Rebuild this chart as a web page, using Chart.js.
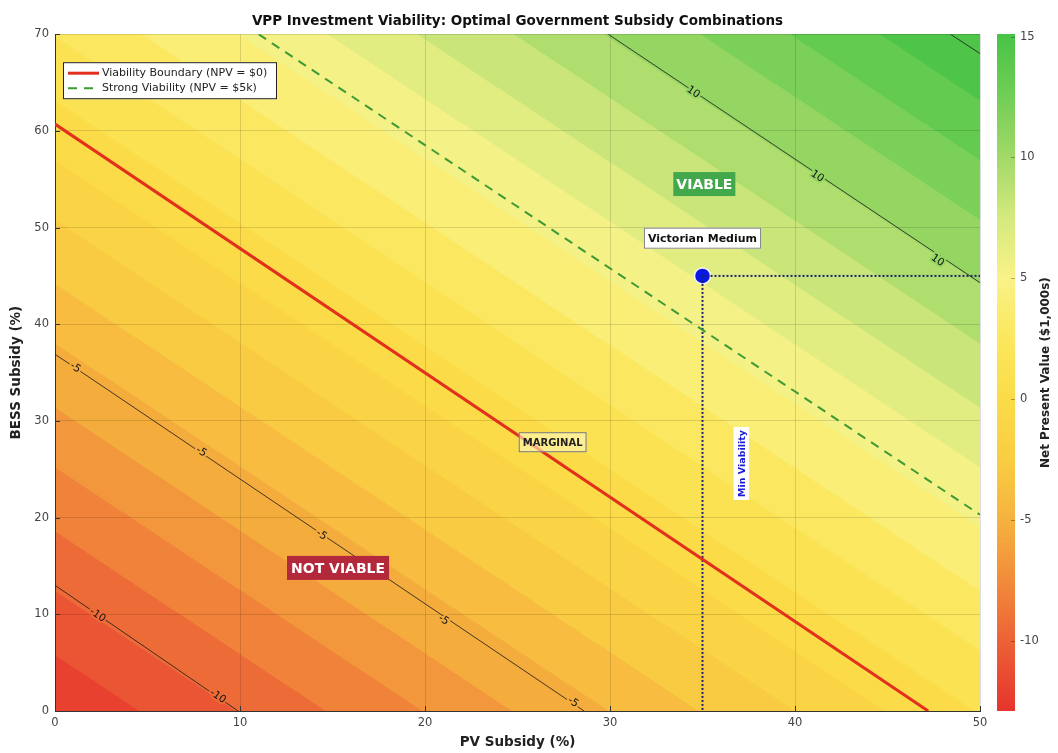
<!DOCTYPE html>
<html>
<head>
<meta charset="utf-8">
<title>VPP Investment Viability</title>
<script src="https://cdn.jsdelivr.net/npm/chart.js@4.4.1/dist/chart.umd.min.js"></script>
<style>
  html, body { margin: 0; padding: 0; background: #fff; }
  #wrap { width: 1058px; height: 753px; }
</style>
</head>
<body>
<div id="wrap"><canvas id="chart" width="1058" height="753"></canvas></div>
<script>
// ---- data ----
const pvTicks = [0, 10, 20, 30, 40, 50];
const bessTicks = [0, 10, 20, 30, 40, 50, 60, 70];
const npvTicks = [-10, -5, 0, 5, 10, 15];
const npvRange = [-12.9, 15.1];

// NPV ($1,000s) on a 10% x 10% grid, rows = BESS subsidy, columns = PV subsidy
const pvGrid = [0, 10, 20, 30, 40, 50];
const bessGrid = [0, 10, 20, 30, 40, 50, 60, 70];
const npvGrid = [
  [-12.72, -10.04, -7.36, -4.68, -2.00, 0.68],
  [-10.61, -7.93, -5.25, -2.57, 0.11, 2.79],
  [-8.50, -5.82, -3.14, -0.46, 2.22, 4.90],
  [-6.39, -3.71, -1.03, 1.65, 4.33, 7.01],
  [-4.28, -1.60, 1.08, 3.76, 6.44, 9.12],
  [-2.17, 0.51, 3.19, 5.87, 8.55, 11.23],
  [-0.06, 2.62, 5.30, 7.98, 10.66, 13.34],
  [2.05, 4.73, 7.41, 10.09, 12.77, 15.45],
];

// filled-contour band edges
const bandEdges = [-11.5, -10.1, -8.8, -7.4, -6.1, -4.7, -3.4, -2.0, -0.7, 0.6,
  2.0, 3.3, 4.7, 6.0, 7.3, 8.7, 10.0, 11.4, 12.7, 14.0];

// labelled black contour lines (end points where they meet the plot edges)
const contourLevels = [-10, -5, 10, 15];
const contourStartPv = [0, 0, 29.9, 48.4];
const contourStartBess = [13.0, 36.9, 70, 70];
const contourEndPv = [9.9, 28.6, 50, 50];
const contourEndBess = [0, 0, 44.3, 68.0];

// inline contour label spots
const labelLevel = [-10, -10, -5, -5, -5, -5, -5, 10, 10, 10];
const labelPv = [2.3, 8.8, 1.1, 7.9, 14.4, 21.0, 28.0, 34.5, 41.2, 47.7];
const labelBess = [9.9, 1.5, 35.5, 26.8, 18.2, 9.4, 0.9, 64.0, 55.3, 46.6];

// NPV = $0 and NPV = $5k boundaries
const boundaryPv = [0, 47.2];
const boundaryBess = [60.7, 0];
const strongPv = [11.0, 50];
const strongBess = [70, 20.3];

// Victorian medium scenario
const victorianPv = [35];
const victorianBess = [45];

// ---- style ----
const FONT = "'DejaVu Sans', 'Liberation Sans', Arial, sans-serif";
const CMAP = [
  [-12.9, 230, 52, 46],
  [-10, 236, 98, 54],
  [-7.5, 241, 140, 58],
  [-5, 245, 178, 62],
  [-2.5, 249, 205, 66],
  [0, 251, 220, 72],
  [2.5, 251, 231, 94],
  [5, 249, 242, 135],
  [7.5, 212, 233, 126],
  [10, 162, 217, 104],
  [12.5, 114, 206, 86],
  [15.1, 72, 196, 70],
];

const annotations = [
  { text: 'VIABLE', pv: 35.1, bess: 54.5, size: 14, bg: '#43a84b', color: '#fff', pad: [3, 4] },
  { text: 'Victorian Medium', pv: 35.0, bess: 48.9, size: 11, bg: '#ffffff', color: '#111', border: '#888', pad: [4, 4] },
  { text: 'MARGINAL', pv: 26.9, bess: 27.8, size: 10, bg: 'rgba(255,248,190,0.6)', color: '#222', border: '#777', pad: [4, 4] },
  { text: 'NOT VIABLE', pv: 15.3, bess: 14.8, size: 14, bg: '#b3283b', color: '#fff', pad: [4, 4] },
  { text: 'Min Viability', pv: 37.1, bess: 25.6, size: 9.5, bg: '#ffffff', color: '#1a1ad6', pad: [3, 2], vertical: true },
];

function cmap(v) {
  if (v <= CMAP[0][0]) return CMAP[0].slice(1);
  for (let k = 1; k < CMAP.length; k++) {
    if (v <= CMAP[k][0]) {
      const t = (v - CMAP[k - 1][0]) / (CMAP[k][0] - CMAP[k - 1][0]);
      return [1, 2, 3].map(c => Math.round(CMAP[k - 1][c] + t * (CMAP[k][c] - CMAP[k - 1][c])));
    }
  }
  return CMAP[CMAP.length - 1].slice(1);
}

const zMin = Math.min(...npvGrid.flat());
const zMax = Math.max(...npvGrid.flat());
const bandColors = [];
for (let k = 0; k <= bandEdges.length; k++) {
  const lo = k === 0 ? zMin : bandEdges[k - 1];
  const hi = k === bandEdges.length ? zMax : bandEdges[k];
  bandColors.push(cmap((lo + hi) / 2));
}

function bandIndex(v) {
  let k = 0;
  while (k < bandEdges.length && v >= bandEdges[k]) k++;
  return k;
}

function npvAt(pv, bess) {
  let i = 0;
  while (i < pvGrid.length - 2 && pv > pvGrid[i + 1]) i++;
  let j = 0;
  while (j < bessGrid.length - 2 && bess > bessGrid[j + 1]) j++;
  const tx = (pv - pvGrid[i]) / (pvGrid[i + 1] - pvGrid[i]);
  const ty = (bess - bessGrid[j]) / (bessGrid[j + 1] - bessGrid[j]);
  return npvGrid[j][i] * (1 - tx) * (1 - ty) + npvGrid[j][i + 1] * tx * (1 - ty)
    + npvGrid[j + 1][i] * (1 - tx) * ty + npvGrid[j + 1][i + 1] * tx * ty;
}

// filled contour drawn under the grid
const npvFill = {
  id: 'npvFill',
  beforeDraw(chart) {
    const { ctx, chartArea: a, scales: { x, y } } = chart;
    const w = Math.round(a.right - a.left);
    const h = Math.round(a.bottom - a.top);
    const off = document.createElement('canvas');
    off.width = w;
    off.height = h;
    const octx = off.getContext('2d');
    const img = octx.createImageData(w, h);
    const xs = [];
    for (let i = 0; i < w; i++) xs.push(x.getValueForPixel(a.left + i + 0.5));
    for (let j = 0; j < h; j++) {
      const yv = y.getValueForPixel(a.top + j + 0.5);
      for (let i = 0; i < w; i++) {
        const c = bandColors[bandIndex(npvAt(xs[i], yv))];
        const p = (j * w + i) * 4;
        img.data[p] = c[0];
        img.data[p + 1] = c[1];
        img.data[p + 2] = c[2];
        img.data[p + 3] = 255;
      }
    }
    octx.putImageData(img, 0, 0);
    ctx.drawImage(off, a.left, a.top);
  },
};

function textBox(ctx, an, px, py) {
  ctx.save();
  ctx.font = 'bold ' + an.size + 'px ' + FONT;
  const tw = ctx.measureText(an.text).width;
  const bw = tw + an.pad[0] * 2;
  const bh = an.size + an.pad[1] * 2 + 2;
  ctx.translate(px, py);
  if (an.vertical) ctx.rotate(-Math.PI / 2);
  ctx.fillStyle = an.bg;
  ctx.fillRect(-bw / 2, -bh / 2, bw, bh);
  if (an.border) {
    ctx.strokeStyle = an.border;
    ctx.lineWidth = 1;
    ctx.strokeRect(-bw / 2 + 0.5, -bh / 2 + 0.5, bw - 1, bh - 1);
  }
  ctx.fillStyle = an.color;
  ctx.textAlign = 'center';
  ctx.textBaseline = 'middle';
  ctx.fillText(an.text, 0, 1);
  ctx.restore();
}

const overlay = {
  id: 'overlay',
  afterDraw(chart) {
    const { ctx, chartArea: a, scales: { x, y, cb } } = chart;
    ctx.save();

    // inward tick marks
    ctx.strokeStyle = '#333';
    ctx.lineWidth = 1;
    ctx.beginPath();
    pvTicks.forEach(v => {
      const px = Math.round(x.getPixelForValue(v)) + 0.5;
      ctx.moveTo(px, a.bottom);
      ctx.lineTo(px, a.bottom - 5);
    });
    bessTicks.forEach(v => {
      const py = Math.round(y.getPixelForValue(v)) + 0.5;
      ctx.moveTo(a.left, py);
      ctx.lineTo(a.left + 5, py);
    });
    ctx.stroke();

    // inline contour labels
    ctx.font = '10.5px ' + FONT;
    ctx.textAlign = 'center';
    ctx.textBaseline = 'middle';
    labelLevel.forEach((lev, k) => {
      const li = contourLevels.indexOf(lev);
      const ang = Math.atan2(
        y.getPixelForValue(contourEndBess[li]) - y.getPixelForValue(contourStartBess[li]),
        x.getPixelForValue(contourEndPv[li]) - x.getPixelForValue(contourStartPv[li]));
      const c = bandColors[bandIndex(lev)];
      ctx.save();
      ctx.translate(x.getPixelForValue(labelPv[k]), y.getPixelForValue(labelBess[k]));
      ctx.rotate(ang);
      ctx.lineWidth = 4;
      ctx.strokeStyle = 'rgb(' + c.join(',') + ')';
      ctx.strokeText(String(lev), 0, 0);
      ctx.fillStyle = '#111';
      ctx.fillText(String(lev), 0, 0);
      ctx.restore();
    });

    // text annotations
    annotations.forEach(an => textBox(ctx, an, x.getPixelForValue(an.pv), y.getPixelForValue(an.bess)));

    // legend
    const lx = a.left + 8, ly = a.top + 28, lw = 214, lh = 37;
    ctx.fillStyle = '#ffffff';
    ctx.fillRect(lx, ly, lw, lh);
    ctx.strokeStyle = '#222';
    ctx.lineWidth = 1;
    ctx.strokeRect(lx + 0.5, ly + 0.5, lw - 1, lh - 1);
    ctx.font = '11px ' + FONT;
    ctx.textAlign = 'left';
    ctx.textBaseline = 'middle';
    chart.data.datasets.filter(d => d.inLegend).forEach((d, k) => {
      const yy = ly + 11 + k * 15;
      ctx.save();
      ctx.strokeStyle = d.borderColor;
      ctx.lineWidth = d.borderWidth;
      ctx.setLineDash(d.borderDash || []);
      ctx.beginPath();
      ctx.moveTo(lx + 5, yy);
      ctx.lineTo(lx + 36, yy);
      ctx.stroke();
      ctx.restore();
      ctx.fillStyle = '#222';
      ctx.fillText(d.label, lx + 39, yy);
    });

    // colour bar
    const bx = cb.left + 17, bw = 18;
    for (let py = Math.floor(cb.top); py < cb.bottom; py++) {
      const c = cmap(cb.getValueForPixel(py + 0.5));
      ctx.fillStyle = 'rgb(' + c.join(',') + ')';
      ctx.fillRect(bx, py, bw, 1);
    }
    ctx.strokeStyle = 'rgba(0,0,0,0.3)';
    ctx.beginPath();
    npvTicks.forEach(v => {
      const py = Math.round(cb.getPixelForValue(v)) + 0.5;
      ctx.moveTo(bx + bw - 4, py);
      ctx.lineTo(bx + bw, py);
    });
    ctx.stroke();

    ctx.save();
    ctx.translate(cb.right - 12, (cb.top + cb.bottom) / 2);
    ctx.rotate(-Math.PI / 2);
    ctx.font = 'bold 12px ' + FONT;
    ctx.fillStyle = '#222';
    ctx.textAlign = 'center';
    ctx.textBaseline = 'middle';
    ctx.fillText('Net Present Value ($1,000s)', 0, 0);
    ctx.restore();

    ctx.restore();
  },
};

const lineStyle = { showLine: true, pointRadius: 0, fill: false, xAxisID: 'x', yAxisID: 'y' };
const pts = (xs, ys) => xs.map((v, i) => ({ x: v, y: ys[i] }));

const datasets = contourLevels.map((lev, i) => Object.assign({}, lineStyle, {
  label: 'NPV ' + lev,
  data: [{ x: contourStartPv[i], y: contourStartBess[i] }, { x: contourEndPv[i], y: contourEndBess[i] }],
  borderColor: 'rgba(25,25,25,0.8)',
  borderWidth: 1,
}));

datasets.push(Object.assign({}, lineStyle, {
  label: 'Viability Boundary (NPV = $0)',
  data: pts(boundaryPv, boundaryBess),
  borderColor: '#e2301c',
  borderWidth: 3,
  inLegend: true,
}));
datasets.push(Object.assign({}, lineStyle, {
  label: 'Strong Viability (NPV = $5k)',
  data: pts(strongPv, strongBess),
  borderColor: '#3d9a35',
  borderWidth: 2,
  borderDash: [9, 7],
  inLegend: true,
}));
datasets.push(Object.assign({}, lineStyle, {
  label: 'Min viability (BESS)',
  data: [{ x: victorianPv[0], y: victorianBess[0] }, { x: pvTicks[pvTicks.length - 1], y: victorianBess[0] }],
  borderColor: '#1c2470',
  borderWidth: 2,
  borderDash: [2, 2],
}));
datasets.push(Object.assign({}, lineStyle, {
  label: 'Min viability (PV)',
  data: [{ x: victorianPv[0], y: victorianBess[0] }, { x: victorianPv[0], y: bessTicks[0] }],
  borderColor: '#1c2470',
  borderWidth: 2,
  borderDash: [2, 2],
}));
datasets.push({
  label: 'Victorian Medium',
  data: pts(victorianPv, victorianBess),
  showLine: false,
  pointRadius: 8,
  pointBackgroundColor: '#0a18e4',
  pointBorderColor: 'rgba(255,255,255,0.9)',
  pointBorderWidth: 1.5,
  xAxisID: 'x',
  yAxisID: 'y',
});

Chart.defaults.font.family = FONT;

new Chart(document.getElementById('chart').getContext('2d'), {
  type: 'scatter',
  data: { datasets },
  options: {
    responsive: false,
    animation: false,
    devicePixelRatio: 1,
    layout: { padding: 0, autoPadding: false },
    plugins: {
      legend: { display: false },
      tooltip: { enabled: false },
      title: {
        display: true,
        fullSize: false,
        text: 'VPP Investment Viability: Optimal Government Subsidy Combinations',
        color: '#111',
        font: { size: 13.5, weight: 'bold' },
        padding: { top: 13, bottom: 5 },
      },
    },
    scales: {
      x: {
        type: 'linear',
        position: 'bottom',
        min: pvTicks[0],
        max: pvTicks[pvTicks.length - 1],
        afterBuildTicks: s => { s.ticks = pvTicks.map(v => ({ value: v })); },
        afterFit: s => { s.height = 42; },
        grid: { color: 'rgba(0,0,0,0.13)', drawTicks: false },
        border: { color: '#333', width: 1 },
        ticks: { padding: 5, color: '#444', font: { size: 11.5 } },
        title: { display: true, text: 'PV Subsidy (%)', color: '#222', font: { size: 13.5, weight: 'bold' }, padding: { top: 0, bottom: 2 } },
      },
      y: {
        type: 'linear',
        position: 'left',
        min: bessTicks[0],
        max: bessTicks[bessTicks.length - 1],
        afterBuildTicks: s => { s.ticks = bessTicks.map(v => ({ value: v })); },
        afterFit: s => { s.width = 55; },
        grid: { color: 'rgba(0,0,0,0.13)', drawTicks: false },
        border: { color: '#333', width: 1 },
        ticks: { padding: 6, color: '#444', font: { size: 11.5 } },
        title: { display: true, text: 'BESS Subsidy (%)', color: '#222', font: { size: 13.5, weight: 'bold' }, padding: { top: 8, bottom: 0 } },
      },
      cb: {
        type: 'linear',
        axis: 'y',
        position: 'right',
        min: npvRange[0],
        max: npvRange[1],
        afterBuildTicks: s => { s.ticks = npvTicks.map(v => ({ value: v })); },
        afterFit: s => { s.width = 78; },
        grid: { display: true, drawOnChartArea: false, drawTicks: true, tickLength: 38, color: 'rgba(0,0,0,0)' },
        border: { display: false },
        ticks: { padding: 2, color: '#444', font: { size: 11.5 } },
      },
    },
  },
  plugins: [npvFill, overlay],
});
</script>
</body>
</html>
